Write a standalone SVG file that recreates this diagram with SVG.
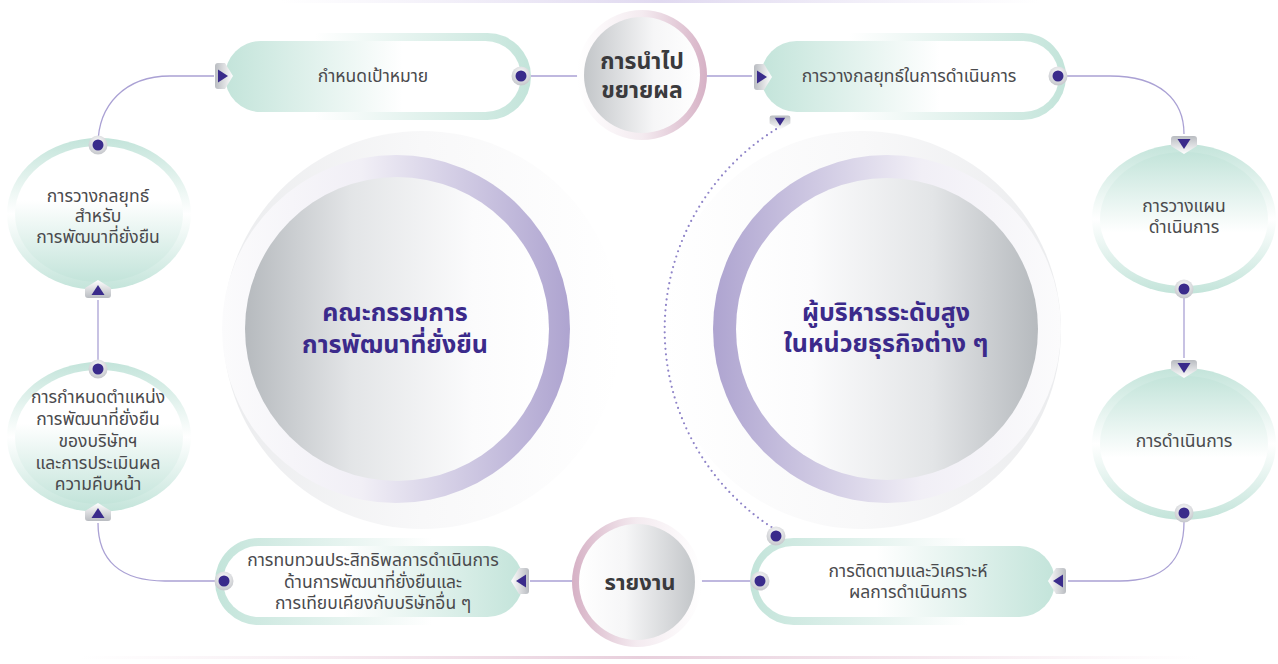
<svg xmlns="http://www.w3.org/2000/svg" width="1278" height="664" viewBox="0 0 1278 664">
<defs>
<style>
.conn{fill:none;stroke:#aaa1d4;stroke-width:1.3}
.dots{fill:none;stroke:#8f84c8;stroke-width:2.2;stroke-linecap:round;stroke-dasharray:0 5.5}
.lbl{font-family:"Noto Sans Thai","Noto Sans","DejaVu Sans",sans-serif;font-size:17.5px;fill:#4a4a4d;text-anchor:middle}
.bold{font-family:"Noto Sans Thai","Noto Sans","DejaVu Sans",sans-serif;font-weight:700;font-size:23px;fill:#3a3a3d;text-anchor:middle}
.big{font-family:"Noto Sans Thai","Noto Sans","DejaVu Sans",sans-serif;font-weight:700;font-size:25px;fill:#3b2a8b;text-anchor:middle}
.mk{fill:#3a2b8b}
</style>
<linearGradient id="fillTealL" x1="0" y1="0" x2="1" y2="0"><stop offset="0" stop-color="#c3e4da"/><stop offset="0.6" stop-color="#ffffff"/><stop offset="1" stop-color="#ffffff"/></linearGradient>
<linearGradient id="fillTealR" x1="0" y1="0" x2="1" y2="0"><stop offset="0" stop-color="#ffffff"/><stop offset="0.4" stop-color="#ffffff"/><stop offset="1" stop-color="#c3e4da"/></linearGradient>
<linearGradient id="bandR" x1="0" y1="0" x2="1" y2="0"><stop offset="0" stop-color="#ffffff"/><stop offset="0.3" stop-color="#ffffff"/><stop offset="1" stop-color="#c3e4da"/></linearGradient>
<linearGradient id="bandL" x1="0" y1="0" x2="1" y2="0"><stop offset="0" stop-color="#c3e4da"/><stop offset="0.7" stop-color="#ffffff"/><stop offset="1" stop-color="#ffffff"/></linearGradient>
<linearGradient id="fillTealTop" x1="0" y1="0" x2="0" y2="1"><stop offset="0" stop-color="#c3e4da"/><stop offset="0.6" stop-color="#ffffff"/><stop offset="1" stop-color="#ffffff"/></linearGradient>
<linearGradient id="fillTealBot" x1="0" y1="0" x2="0" y2="1"><stop offset="0" stop-color="#ffffff"/><stop offset="0.4" stop-color="#ffffff"/><stop offset="1" stop-color="#c3e4da"/></linearGradient>
<linearGradient id="bandV" x1="0" y1="0" x2="0" y2="1"><stop offset="0" stop-color="#c3e4da"/><stop offset="0.5" stop-color="#ffffff"/><stop offset="1" stop-color="#c3e4da"/></linearGradient>
<linearGradient id="pinkR" x1="0" y1="0" x2="1" y2="0"><stop offset="0" stop-color="#ffffff"/><stop offset="0.5" stop-color="#f4ebf0"/><stop offset="1" stop-color="#d6b1c5"/></linearGradient>
<linearGradient id="pinkL" x1="0" y1="0" x2="1" y2="0"><stop offset="0" stop-color="#d6b1c5"/><stop offset="0.5" stop-color="#f4ebf0"/><stop offset="1" stop-color="#ffffff"/></linearGradient>
<linearGradient id="greyL" x1="0" y1="0" x2="1" y2="0"><stop offset="0" stop-color="#c3c6c9"/><stop offset="0.6" stop-color="#f6f6f7"/><stop offset="1" stop-color="#ffffff"/></linearGradient>
<linearGradient id="greyR" x1="0" y1="0" x2="1" y2="0"><stop offset="0" stop-color="#ffffff"/><stop offset="0.4" stop-color="#f6f6f7"/><stop offset="1" stop-color="#c3c6c9"/></linearGradient>
<linearGradient id="bigGreyL" x1="0" y1="0" x2="1" y2="0"><stop offset="0" stop-color="#b6babe"/><stop offset="0.35" stop-color="#e3e5e7"/><stop offset="0.75" stop-color="#fbfbfc"/><stop offset="1" stop-color="#ffffff"/></linearGradient>
<linearGradient id="bigGreyR" x1="0" y1="0" x2="1" y2="0"><stop offset="0" stop-color="#ffffff"/><stop offset="0.25" stop-color="#fbfbfc"/><stop offset="0.65" stop-color="#e3e5e7"/><stop offset="1" stop-color="#b6babe"/></linearGradient>
<linearGradient id="purpR" x1="0" y1="0" x2="1" y2="0"><stop offset="0" stop-color="#fbfbfc"/><stop offset="0.4" stop-color="#f1eff6"/><stop offset="1" stop-color="#aea4d0"/></linearGradient>
<linearGradient id="purpL" x1="0" y1="0" x2="1" y2="0"><stop offset="0" stop-color="#aea4d0"/><stop offset="0.6" stop-color="#f1eff6"/><stop offset="1" stop-color="#fbfbfc"/></linearGradient>
<linearGradient id="paleL" x1="0" y1="0" x2="1" y2="0"><stop offset="0" stop-color="#ebecee"/><stop offset="0.5" stop-color="#f8f8f9"/><stop offset="1" stop-color="#ffffff"/></linearGradient>
<linearGradient id="paleR" x1="0" y1="0" x2="1" y2="0"><stop offset="0" stop-color="#ffffff"/><stop offset="0.5" stop-color="#f8f8f9"/><stop offset="1" stop-color="#ebecee"/></linearGradient>
<linearGradient id="tabG" x1="0" y1="0" x2="1" y2="0"><stop offset="0" stop-color="#b9bcc1"/><stop offset="1" stop-color="#ffffff"/></linearGradient>
<radialGradient id="dotG" cx="0.5" cy="0.35" r="0.6"><stop offset="0" stop-color="#ffffff"/><stop offset="1" stop-color="#c9cbcf"/></radialGradient>
<linearGradient id="lineTop" x1="0" y1="0" x2="1" y2="0"><stop offset="0" stop-color="#e4def2" stop-opacity="0"/><stop offset="0.5" stop-color="#e0d9f0"/><stop offset="1" stop-color="#e4def2" stop-opacity="0"/></linearGradient>
<linearGradient id="lineBot" x1="0" y1="0" x2="1" y2="0"><stop offset="0" stop-color="#ecd6e2" stop-opacity="0"/><stop offset="0.5" stop-color="#e8cfdc"/><stop offset="1" stop-color="#ecd6e2" stop-opacity="0"/></linearGradient>
<g id="arrowR">
<path d="M-4,-13 L3,-13 L11,0 L3,13 L-4,13 Q-7,13 -7,10 L-7,-10 Q-7,-13 -4,-13 Z" fill="url(#tabG)"/>
<path class="mk" d="M-4,-6.5 L6,0 L-4,6.5 Z"/>
</g>
<g id="dot">
<circle r="9.5" fill="url(#dotG)"/>
<circle class="mk" r="5.5"/>
</g>
</defs>
<rect width="1278" height="664" fill="#ffffff"/>
<rect x="280" y="0" width="760" height="3" fill="url(#lineTop)"/>
<rect x="80" y="656" width="1120" height="3" fill="url(#lineBot)"/>

<g id="board">
<circle cx="422" cy="330" r="199" fill="url(#paleL)"/>
<circle cx="396" cy="329" r="174" fill="url(#purpR)"/>
<circle cx="397" cy="329" r="152" fill="url(#bigGreyL)"/>
<text class="big" x="395"><tspan x="395" y="321">คณะกรรมการ</tspan><tspan x="395" y="353">การพัฒนาที่ยั่งยืน</tspan></text>
</g>
<g id="executives">
<circle cx="862" cy="330" r="199" fill="url(#paleR)"/>
<circle cx="887" cy="329" r="174" fill="url(#purpL)"/>
<circle cx="887" cy="329" r="151" fill="url(#bigGreyR)"/>
<text class="big" x="886"><tspan x="886" y="321">ผู้บริหารระดับสูง</tspan><tspan x="886" y="352">ในหน่วยธุรกิจต่าง ๆ</tspan></text>
</g>

<g id="connectors">
<path class="dots" d="M776,530 A236,236 0 0,1 778,128"/>
<path class="conn" d="M98,145 C98,105 125,76 170,76 L214,76"/>
<path class="conn" d="M530,76 L580,76"/>
<path class="conn" d="M706,76 L752,76"/>
<path class="conn" d="M1066,76 L1110,76 C1160,76 1184,100 1184,134"/>
<path class="conn" d="M1184,298 L1184,358"/>
<path class="conn" d="M1184,522 C1184,560 1165,581 1120,581 L1068,581"/>
<path class="conn" d="M752,581 L698,581"/>
<path class="conn" d="M577,581 L530,581"/>
<path class="conn" d="M215,581 L165,581 C120,581 98,560 98,523"/>
<path class="conn" d="M98,360 L98,300"/>
</g>

<g id="n-target">
<rect x="222" y="33" width="309" height="87" rx="43.5" fill="url(#bandR)"/>
<rect x="225" y="41" width="296" height="71" rx="35.5" fill="url(#fillTealL)"/>
<text class="lbl" x="373" y="82">กำหนดเป้าหมาย</text>
</g>
<g id="n-extend">
<circle cx="642" cy="75" r="65" fill="url(#pinkR)"/>
<circle cx="642" cy="75" r="58" fill="url(#greyL)"/>
<text class="bold" x="642"><tspan x="642" y="69">การนำไป</tspan><tspan x="642" y="98">ขยายผล</tspan></text>
</g>
<g id="n-opstrategy">
<rect x="757" y="33" width="309" height="87" rx="43.5" fill="url(#bandR)"/>
<rect x="761" y="41" width="298" height="71" rx="35.5" fill="url(#fillTealL)"/>
<text class="lbl" x="909" y="82">การวางกลยุทธ์ในการดำเนินการ</text>
</g>
<g id="n-opplan">
<ellipse cx="1184" cy="219" rx="92" ry="75" fill="url(#bandV)"/>
<ellipse cx="1184" cy="219" rx="84" ry="67" fill="url(#fillTealTop)"/>
<text class="lbl" x="1184"><tspan x="1184" y="212">การวางแผน</tspan><tspan x="1184" y="233">ดำเนินการ</tspan></text>
</g>
<g id="n-operate">
<ellipse cx="1184" cy="444" rx="92" ry="76" fill="url(#bandV)"/>
<ellipse cx="1184" cy="444" rx="84" ry="68" fill="url(#fillTealTop)"/>
<text class="lbl" x="1184" y="447">การดำเนินการ</text>
</g>
<g id="n-monitor">
<rect x="750" y="538" width="310" height="87" rx="43.5" fill="url(#bandL)"/>
<rect x="757" y="546" width="298" height="71" rx="35.5" fill="url(#fillTealR)"/>
<text class="lbl" x="908"><tspan x="908" y="577">การติดตามและวิเคราะห์</tspan><tspan x="908" y="598">ผลการดำเนินการ</tspan></text>
</g>
<g id="n-report">
<circle cx="637" cy="582" r="65" fill="url(#pinkL)"/>
<circle cx="637" cy="582" r="58" fill="url(#greyR)"/>
<text class="bold" x="640" y="590" style="font-size:22px">รายงาน</text>
</g>
<g id="n-review">
<rect x="215" y="538" width="310" height="87" rx="43.5" fill="url(#bandL)"/>
<rect x="223" y="546" width="300" height="71" rx="35.5" fill="url(#fillTealR)"/>
<text class="lbl" x="373"><tspan x="373" y="566">การทบทวนประสิทธิพลการดำเนินการ</tspan><tspan x="373" y="588">ด้านการพัฒนาที่ยั่งยืนและ</tspan><tspan x="373" y="609">การเทียบเคียงกับบริษัทอื่น ๆ</tspan></text>
</g>
<g id="n-position">
<ellipse cx="99" cy="437" rx="92" ry="75" fill="url(#bandV)"/>
<ellipse cx="99" cy="437" rx="84" ry="67" fill="url(#fillTealBot)"/>
<text class="lbl" x="98"><tspan x="98" y="403">การกำหนดตำแหน่ง</tspan><tspan x="98" y="425">การพัฒนาที่ยั่งยืน</tspan><tspan x="98" y="447">ของบริษัทฯ</tspan><tspan x="98" y="469">และการประเมินผล</tspan><tspan x="98" y="490">ความคืบหน้า</tspan></text>
</g>
<g id="n-strategy">
<ellipse cx="99" cy="214" rx="92" ry="76" fill="url(#bandV)"/>
<ellipse cx="99" cy="214" rx="84" ry="68" fill="url(#fillTealBot)"/>
<text class="lbl" x="98"><tspan x="98" y="202">การวางกลยุทธ์</tspan><tspan x="98" y="222">สำหรับ</tspan><tspan x="98" y="243">การพัฒนาที่ยั่งยืน</tspan></text>
</g>

<g id="markers">
<use href="#arrowR" transform="translate(222,76)"/>
<use href="#arrowR" transform="translate(761,77)"/>
<use href="#arrowR" transform="translate(1184,143) rotate(90)"/>
<use href="#arrowR" transform="translate(1184,367) rotate(90)"/>
<use href="#arrowR" transform="translate(1059,581) rotate(180)"/>
<use href="#arrowR" transform="translate(522,581) rotate(180)"/>
<use href="#arrowR" transform="translate(98,514) rotate(-90)"/>
<use href="#arrowR" transform="translate(98,291) rotate(-90)"/>
<use href="#arrowR" transform="translate(780,121) rotate(90) scale(0.8)"/>
<use href="#dot" transform="translate(98,145)"/>
<use href="#dot" transform="translate(521,76)"/>
<use href="#dot" transform="translate(1058,76)"/>
<use href="#dot" transform="translate(1184,289)"/>
<use href="#dot" transform="translate(1184,513)"/>
<use href="#dot" transform="translate(760,581)"/>
<use href="#dot" transform="translate(776,536)"/>
<use href="#dot" transform="translate(224,581)"/>
<use href="#dot" transform="translate(98,369)"/>
</g>
</svg>
